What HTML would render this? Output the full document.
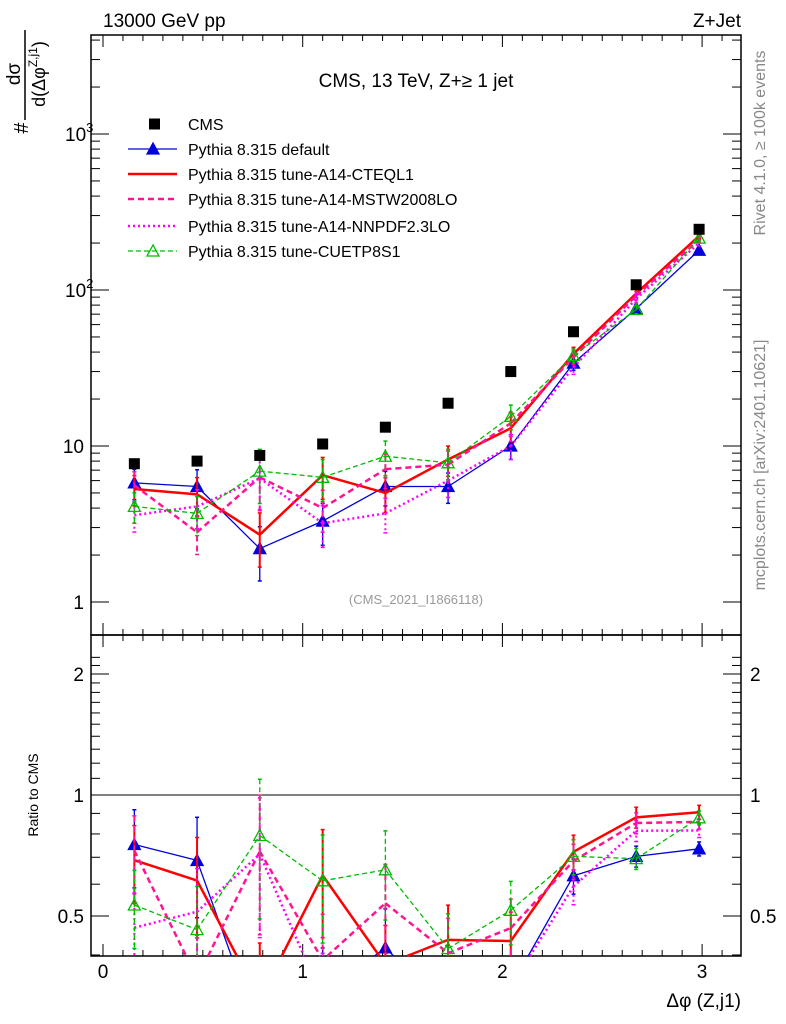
<!DOCTYPE html>
<html><head><meta charset="utf-8"><style>
html,body{margin:0;padding:0;background:#fff;overflow:hidden;width:786px;height:1024px}
svg{display:block;position:absolute;left:0;top:0;font-family:"Liberation Sans",sans-serif}
</style></head><body>
<svg id="c" width="786" height="1024" viewBox="0 0 786 1024">
<text x="103" y="27" font-size="19">13000 GeV pp</text>
<text x="741" y="27" font-size="19" text-anchor="end">Z+Jet</text>
<text x="416" y="87" font-size="19" text-anchor="middle">CMS, 13 TeV, Z+≥ 1 jet</text>
<text x="416" y="604" font-size="13" fill="#999" text-anchor="middle">(CMS_2021_I1866118)</text>
<text transform="translate(765,143) rotate(-90)" font-size="16" fill="#888" text-anchor="middle">Rivet 4.1.0, ≥ 100k events</text>
<text transform="translate(765,465) rotate(-90)" font-size="16" fill="#888" text-anchor="middle">mcplots.cern.ch [arXiv:2401.10621]</text>
<g>
<text transform="translate(28,128) rotate(-90)" font-size="20" text-anchor="middle">#</text>
<text transform="translate(20,74) rotate(-90)" font-size="19" text-anchor="middle">dσ</text>
<line x1="25" y1="30" x2="25" y2="120" stroke="#000" stroke-width="1.5"/>
<text transform="translate(45,74) rotate(-90)" font-size="18" text-anchor="middle">d(Δφ<tspan font-size="12" dy="-8">Z,j1</tspan><tspan dy="8">)</tspan></text>
</g>
<text transform="translate(38,795) rotate(-90)" font-size="14" text-anchor="middle">Ratio to CMS</text>
<text x="741" y="1007" font-size="19" text-anchor="end">Δφ (Z,j1)</text>
<g id="axes"></g>
<g id="marks"></g>
<g id="legend"></g>
</svg>
<script>
const xs=[0.157,0.471,0.785,1.100,1.414,1.728,2.042,2.356,2.670,2.985];
const cms=[7.7,8.0,8.7,10.3,13.2,18.8,30,54,108,245];
const sDefault=[5.8,5.5,2.2,3.3,5.5,5.5,10,34,76,180];
const sCTEQ=[5.3,4.9,2.7,6.5,5.0,8.2,13,39,95,222];
const sMSTW=[5.6,2.8,6.3,4.0,7.1,7.6,14,37,92,210];
const sNNPDF=[3.6,4.1,6.2,3.2,3.7,6.0,10,32,88,200];
const sCUETP=[4.1,3.7,6.9,6.3,8.6,7.8,15.5,38,75,215];
const relErr=[0.22,0.28,0.38,0.30,0.25,0.22,0.18,0.10,0.06,0.04];
const xTicks=[0,1,2,3];
const NS='http://www.w3.org/2000/svg';
const X=v=>103+199.7*v;
const Y=v=>602-156*Math.log10(v);
const R=v=>795-402*Math.log10(v);
function mk(tag,attrs,parent){const e=document.createElementNS(NS,tag);for(const k in attrs)e.setAttribute(k,attrs[k]);parent.appendChild(e);return e;}
const ax=document.getElementById('axes'),mg=document.getElementById('marks'),lg=document.getElementById('legend');
const f1=mk('rect',{x:91,y:35,width:650,height:600,fill:'none',stroke:'#000','stroke-width':1.5},ax);


const f2=mk('rect',{x:91,y:635,width:650,height:321,fill:'none',stroke:'#000','stroke-width':1.5},ax);


mk('line',{x1:91,x2:741,y1:R(1),y2:R(1),stroke:'#000','stroke-width':1},ax);
for(let i=0;i<=31;i++){const v=i/10,x=X(v);if(x>741)break;const L=i%10==0?12:6;
 for(const [t,b] of [[35,635],[635,956]]){mk('line',{x1:x,x2:x,y1:t,y2:t+L,stroke:'#000'},ax);mk('line',{x1:x,x2:x,y1:b,y2:b-L,stroke:'#000'},ax);}}
xTicks.forEach(v=>{const t=mk('text',{x:X(v),y:978,'font-size':19,'text-anchor':'middle'},ax);t.textContent=v;
 
 });
for(let d=0;d<=3;d++)for(let m=1;m<=9;m++){const v=m*Math.pow(10,d),y=Y(v);if(y<35)continue;const L=m==1?18:9;
 mk('line',{x1:91,x2:91+L,y1:y,y2:y,stroke:'#000'},ax);mk('line',{x1:741,x2:741-L,y1:y,y2:y,stroke:'#000'},ax);}
[[1,'1'],[10,'10'],[100,'10<tspan font-size="13" dy="-9">2</tspan>'],[1000,'10<tspan font-size="13" dy="-9">3</tspan>']].forEach(([v,s])=>{
 const t=mk('text',{x:v>=100?65:84,y:Y(v)+7,'font-size':19,'text-anchor':v>=100?'start':'end'},ax);t.innerHTML=s;
 
 });
for(let v=0.4;v<=2.3;v+=0.1){const y=R(v);if(y<635||y>956)continue;const maj=Math.abs(v-0.5)<1e-6||Math.abs(v-1)<1e-6||Math.abs(v-2)<1e-6;const L=maj?18:9;
 mk('line',{x1:91,x2:91+L,y1:y,y2:y,stroke:'#000'},ax);mk('line',{x1:741,x2:741-L,y1:y,y2:y,stroke:'#000'},ax);}
[0.5,1,2].forEach(v=>{const a=mk('text',{x:84,y:R(v)+7,'font-size':19,'text-anchor':'end'},ax);a.textContent=v;
 
 
 const b=mk('text',{x:750,y:R(v)+7,'font-size':19},ax);b.textContent=v;
 
 });
const series=[
 {name:'pythia-default',d:sDefault,c:'#0000dd',w:1.3,dash:'',mk:'tri',label:'Pythia 8.315 default'},
 {name:'pythia-a14-cteql1',d:sCTEQ,c:'#ff0000',w:2.5,dash:'',mk:'',label:'Pythia 8.315 tune-A14-CTEQL1'},
 {name:'pythia-a14-mstw2008lo',d:sMSTW,c:'#ff1493',w:2.5,dash:'6,4',mk:'',label:'Pythia 8.315 tune-A14-MSTW2008LO'},
 {name:'pythia-a14-nnpdf23lo',d:sNNPDF,c:'#ff00ff',w:2.5,dash:'2,3',mk:'',label:'Pythia 8.315 tune-A14-NNPDF2.3LO'},
 {name:'pythia-cuetp8s1',d:sCUETP,c:'#00bb00',w:1.3,dash:'5,3',mk:'otri',label:'Pythia 8.315 tune-CUETP8S1'}];
function tri(g,x,y,c,open){return mk('polygon',{points:`${x},${y-6} ${x-6},${y+5} ${x+6},${y+5}`,fill:open?'none':c,stroke:c,'stroke-width':1.3},g);}
// clip a segment to vertical band [top,bot]
function clipSeg(x1,y1,x2,y2,top,bot){
 let t0=0,t1=1;const dy=y2-y1;
 if(dy===0){if(y1<top||y1>bot)return null;}
 else{let ta=(top-y1)/dy,tb=(bot-y1)/dy;if(ta>tb)[ta,tb]=[tb,ta];t0=Math.max(t0,ta);t1=Math.min(t1,tb);if(t0>t1)return null;}
 return [x1+(x2-x1)*t0,y1+dy*t0,x1+(x2-x1)*t1,y1+dy*t1];}
const panels=[['main',Y,35,635],['ratio',R,635,956]];
series.forEach(s=>{
 panels.forEach(([panel,F,top,bot])=>{
  const g=mk('g',{},mg);
  
  
  const vals=s.d.map((v,i)=>panel=='main'?v:v/cms[i]);
  const P=vals.map((v,i)=>[X(xs[i]),F(v)]);
  let path='';
  for(let i=0;i<P.length-1;i++){const c=clipSeg(P[i][0],P[i][1],P[i+1][0],P[i+1][1],top,bot);
   if(c)path+=`M${c[0]},${c[1]}L${c[2]},${c[3]}`;}
  mk('path',{d:path,fill:'none',stroke:s.c,'stroke-width':s.w,'stroke-dasharray':s.dash,'stroke-linejoin':'round'},g);
  vals.forEach((v,i)=>{const x=X(xs[i]),e=relErr[i];
   const ya=F(v*(1+e)),yb=F(v*(1-e));
   const c1=Math.max(top,Math.min(bot,ya)),c2=Math.max(top,Math.min(bot,yb));
   if(c1<c2)mk('line',{x1:x,x2:x,y1:c1,y2:c2,stroke:s.c,'stroke-width':s.w>2?2:1.3,'stroke-dasharray':s.dash},g);
   if(ya>=top&&ya<=bot)mk('line',{x1:x-2,x2:x+2,y1:ya,y2:ya,stroke:s.c,'stroke-width':1.5},g);
   if(yb>=top&&yb<=bot)mk('line',{x1:x-2,x2:x+2,y1:yb,y2:yb,stroke:s.c,'stroke-width':1.5},g);
   const yv=F(v);
   if(s.mk&&yv>=top&&yv<=bot-5)tri(g,x,yv,s.c,s.mk=='otri');});
 });
});
const dg=mk('g',{},mg);


cms.forEach((v,i)=>{const r=mk('rect',{x:X(xs[i])-5.5,y:Y(v)-5.5,width:11,height:11,fill:'#000'},dg);
 
 });
const ly=[124,149,174,199,226,251];
const l0=mk('g',{},lg);


mk('rect',{x:149,y:ly[0]-5.5,width:11,height:11,fill:'#000'},l0);
const t0=mk('text',{x:188,y:ly[0]+6,'font-size':16},l0);t0.textContent='CMS';
series.forEach((s,k)=>{const y=ly[k+1];const g=mk('g',{},lg);
 
 
 mk('line',{x1:128,x2:177,y1:y,y2:y,stroke:s.c,'stroke-width':s.w,'stroke-dasharray':s.dash},g);
 if(s.mk)tri(g,153,y,s.c,s.mk=='otri');
 const t=mk('text',{x:188,y:y+6,'font-size':16},g);t.textContent=s.label;});
</script>
</body></html>
